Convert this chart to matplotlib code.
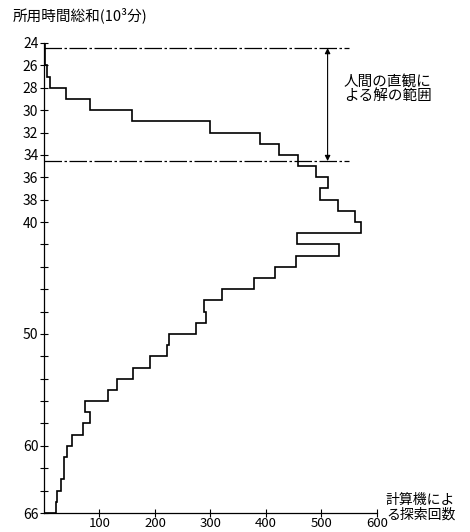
import matplotlib
matplotlib.use("Agg")
import matplotlib.pyplot as plt

# bins of total required time (10^3 min) and search counts per bin
time_edges = [24, 25, 26, 27, 28, 29, 30, 31, 32, 33, 34, 35, 36, 37, 38, 39, 40,
              41, 42, 43, 44, 45, 46, 47, 48, 49, 50, 51, 52, 53, 54, 55, 56, 57,
              58, 59, 60, 61, 62, 63, 64, 65, 66]
search_counts = [1, 2, 6, 11, 39, 83, 159, 300, 390, 423, 458, 490, 511, 497, 530,
                 560, 572, 456, 531, 454, 417, 378, 321, 288, 292, 273, 226, 221,
                 191, 161, 131, 116, 74, 83, 70, 51, 42, 36, 36, 30, 24, 22]

# range of human intuitive solutions
human_range = [24.45, 34.55]

y_ticks = [24, 26, 28, 30, 32, 34, 36, 38, 40, 42, 44, 46, 48, 50, 52, 54, 56,
           58, 60, 62, 64, 66]
y_labeled = [24, 26, 28, 30, 32, 34, 36, 38, 40, 50, 60, 66]
x_ticks = [100, 200, 300, 400, 500, 600]

plt.rcParams["font.family"] = ["Noto Sans CJK JP", "DejaVu Sans"]

fig = plt.figure(figsize=(4.7, 5.32), dpi=100)
ax = fig.add_axes([0.0936, 0.0357, 0.7085, 0.8835])

ax.stairs(search_counts, time_edges, orientation="horizontal",
          color="black", lw=1.2, baseline=0)

ax.hlines(human_range, 0, 549, colors="black", lw=0.9,
          linestyles=[(0, (14, 2, 2, 2))])
ax.annotate("", xy=(511, human_range[0]), xytext=(511, human_range[1]),
            arrowprops=dict(arrowstyle="<|-|>", lw=0.8, color="black",
                            mutation_scale=8, shrinkA=0, shrinkB=0))
ax.text(540, 28.1, "人間の直観に\nよる解の範囲", fontsize=10.5,
        ha="left", va="center", linespacing=1.05)

ax.set_xlim(0, 600)
ax.set_ylim(66, 24)
ax.set_yticks(y_ticks)
ax.set_yticklabels([str(t) if t in y_labeled else "" for t in y_ticks])
ax.set_xticks(x_ticks)
ax.set_xticklabels([str(t) for t in x_ticks])
ax.tick_params(axis="both", direction="inout", length=6, width=0.8,
               labelsize=10, pad=1)
ax.tick_params(axis="x", labelsize=9.5, pad=0)

for side in ("top", "right"):
    ax.spines[side].set_visible(False)
for side in ("left", "bottom"):
    ax.spines[side].set_linewidth(0.9)

ax.text(1.027, 0.012, "計算機によ\nる探索回数", transform=ax.transAxes,
        fontsize=10, ha="left", va="center", linespacing=1.0, clip_on=False)
fig.text(0.026, 0.972, "所用時間総和(10³分)", fontsize=10.5,
         ha="left", va="center")

fig.savefig("out.png", dpi=100)
plt.close(fig)
